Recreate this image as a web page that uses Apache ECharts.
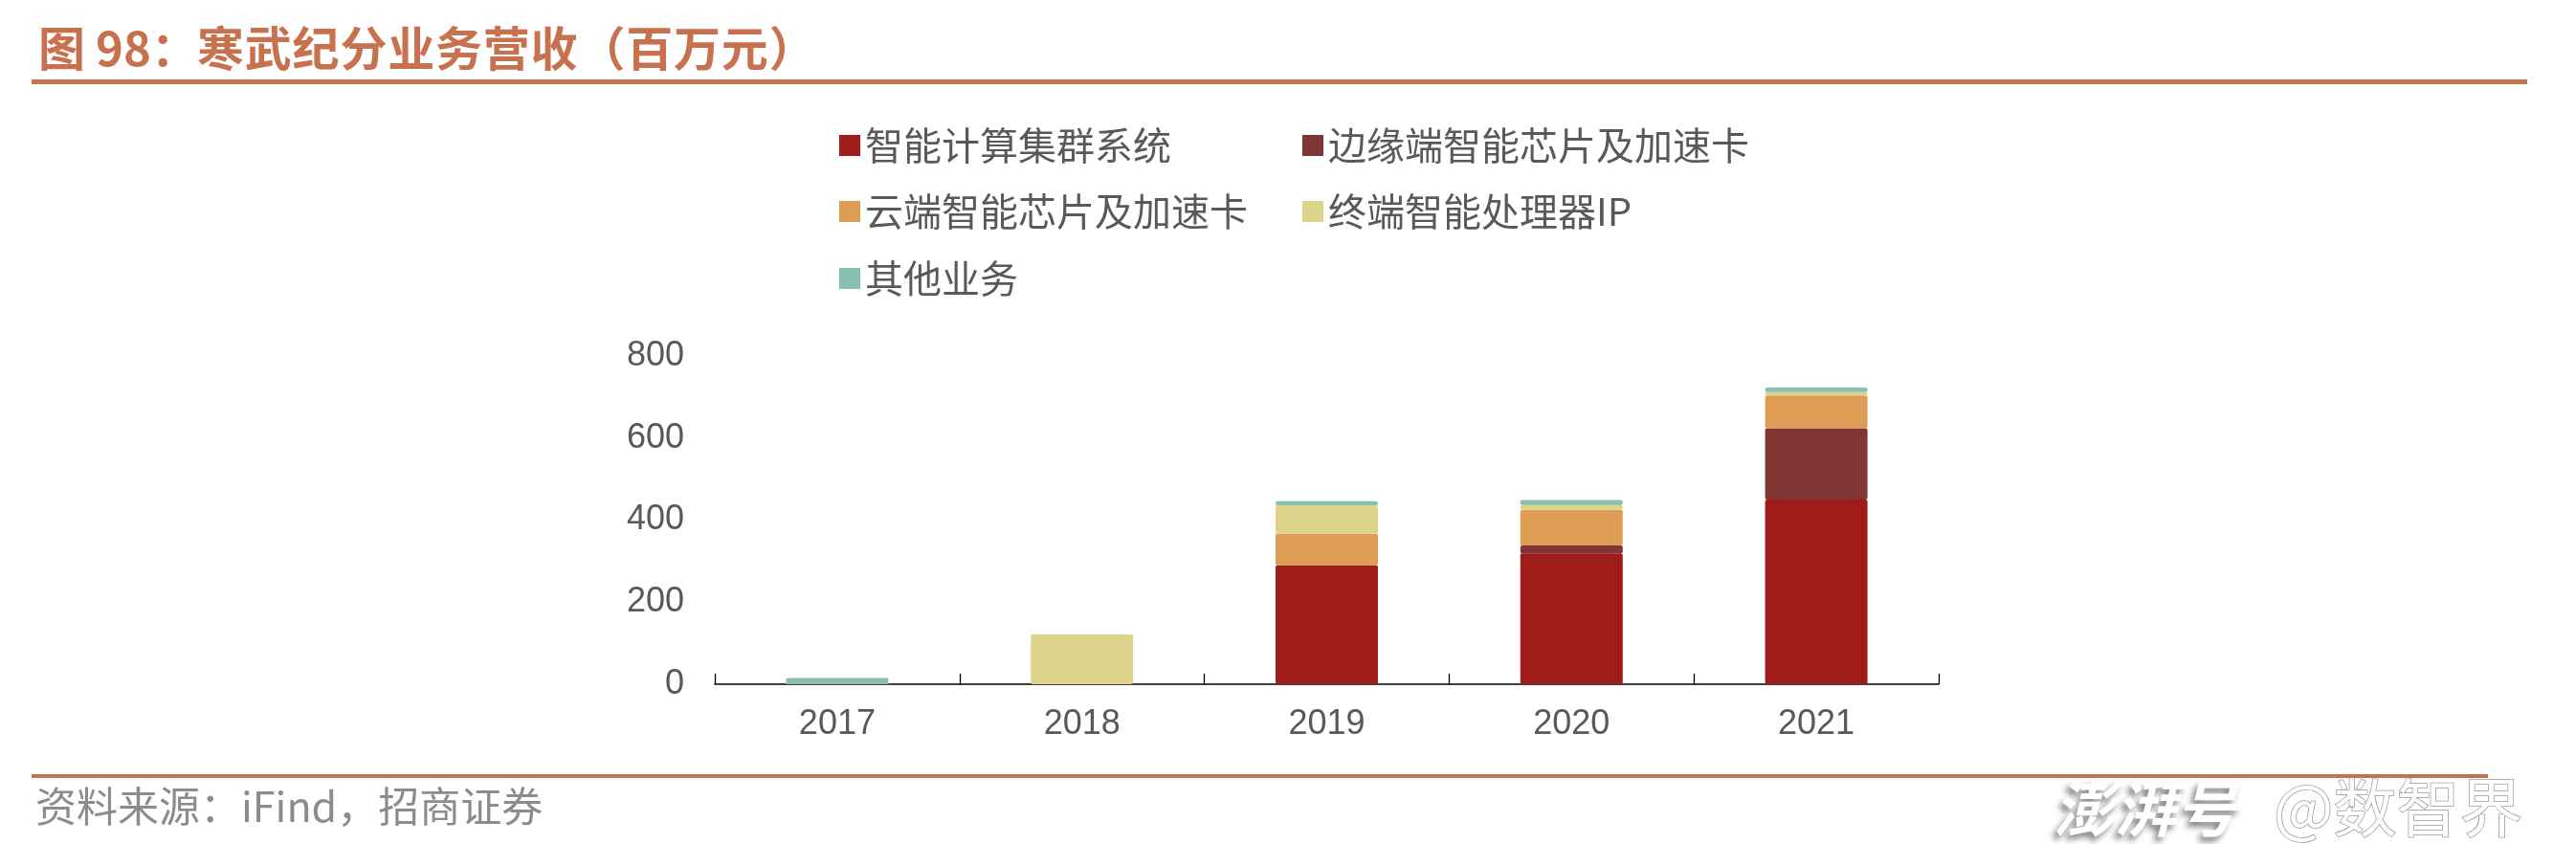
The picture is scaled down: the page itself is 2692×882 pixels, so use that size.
<!DOCTYPE html>
<html>
<head>
<meta charset="utf-8">
<script src="https://cdn.jsdelivr.net/npm/echarts@6/dist/echarts.min.js"></script>
<style>
  html, body { margin: 0; padding: 0; background: #fff; }
  #chart { width: 2692px; height: 882px; }
</style>
</head>
<body>
<div id="chart"></div>
<script>
// ---- data (百万元) ----
const categories = ['2017', '2018', '2019', '2020', '2021'];
const clusterSys = [0, 0, 290, 319, 450];   // 智能计算集群系统
const edgeChip   = [0, 0, 0, 19, 174];      // 边缘端智能芯片及加速卡
const cloudChip  = [0, 0, 77, 87, 80];      // 云端智能芯片及加速卡
const terminalIP = [2, 121, 69, 12, 8];     // 终端智能处理器IP
const otherBiz   = [13, 0, 10, 12, 11];     // 其他业务
const yTicks = [0, 200, 400, 600, 800];

const seriesNames = ['智能计算集群系统', '边缘端智能芯片及加速卡', '云端智能芯片及加速卡', '终端智能处理器IP', '其他业务'];
const seriesColors = ['#A01C1A', '#813636', '#DF9C54', '#DDD48C', '#88BFB0'];
const seriesData = [clusterSys, edgeChip, cloudChip, terminalIP, otherBiz];

const titlePrefix = '图 98：';
const titleMain = '寒武纪分业务营收（百万元）';
const sourceText = '资料来源：iFind，招商证券';

const chart = echarts.init(document.getElementById('chart'), null, { renderer: 'canvas' });

const legendPos = [
  { left: 877, top: 132 },
  { left: 1361, top: 132 },
  { left: 877, top: 201 },
  { left: 1361, top: 201 },
  { left: 877, top: 271 }
];
const legendFont = { color: '#595959', fontSize: 40, fontFamily: 'Noto Sans CJK SC' };

const titleStyle = { fill: '#C8714F', fontSize: 49, fontWeight: 'bold', fontFamily: 'Noto Sans CJK SC', verticalAlign: 'middle' };
const titleGraphics = [
  { type: 'text', x: 40, y: 50, style: Object.assign({ text: titlePrefix }, titleStyle) }
].concat(Array.from(titleMain).map((ch, i) => ({
  type: 'text', x: 206 + i * 49.8, y: 50, style: Object.assign({ text: ch }, titleStyle)
})));

const option = {
  backgroundColor: '#ffffff',
  animation: false,
  legend: seriesNames.map((n, i) => ({
    data: [n],
    left: legendPos[i].left,
    top: legendPos[i].top,
    padding: 0,
    itemWidth: 22,
    itemHeight: 22,
    icon: 'rect',
    textStyle: legendFont,
    selectedMode: false
  })),
  grid: { left: 747, right: 666, top: 372, bottom: 167, containLabel: false },
  xAxis: {
    type: 'category',
    data: categories,
    boundaryGap: true,
    axisLine: { show: true, lineStyle: { color: '#000', width: 1.5 } },
    axisTick: { show: true, inside: true, length: 11, lineStyle: { color: '#000', width: 1.3 } },
    axisLabel: { color: '#595959', fontSize: 36, fontFamily: 'Liberation Sans', margin: 24 },
    splitLine: { show: false }
  },
  yAxis: {
    type: 'value',
    min: yTicks[0],
    max: yTicks[yTicks.length - 1],
    interval: 200,
    axisLine: { show: false },
    axisTick: { show: false },
    splitLine: { show: false },
    axisLabel: { color: '#595959', fontSize: 36, fontFamily: 'Liberation Sans', margin: 32 }
  },
  series: seriesNames.map((n, i) => ({
    name: n,
    type: 'bar',
    stack: 'rev',
    barWidth: 107,
    data: seriesData[i],
    itemStyle: { color: seriesColors[i], borderRadius: 2 }
  })),
  graphic: titleGraphics.concat([
    { type: 'line', shape: { x1: 33, y1: 85.5, x2: 2641, y2: 85.5 }, style: { stroke: '#C8714F', lineWidth: 5 } },
    { type: 'line', shape: { x1: 33, y1: 811, x2: 2600, y2: 811 }, style: { stroke: '#C8714F', lineWidth: 4 } },
    { type: 'text', x: 37, y: 843, style: { text: sourceText, fill: '#8C8C8C', fontSize: 43, fontFamily: 'Noto Sans CJK SC', verticalAlign: 'middle' } },
    { type: 'text', x: 2146, y: 845, style: { text: '澎湃号', fill: '#ffffff', fontSize: 64, fontStyle: 'italic', fontWeight: 'bold', fontFamily: 'Noto Sans CJK SC', verticalAlign: 'middle', textShadowColor: 'rgba(0,0,0,0.5)', textShadowBlur: 6, textShadowOffsetX: -4, textShadowOffsetY: 5 } },
    { type: 'text', x: 2376, y: 844, style: { text: '@数智界', fill: '#ffffff', stroke: '#9a9a9a', lineWidth: 1.5, fontSize: 66, fontFamily: 'Noto Sans CJK SC', verticalAlign: 'middle' } }
  ])
};
chart.setOption(option);
</script>
</body>
</html>
